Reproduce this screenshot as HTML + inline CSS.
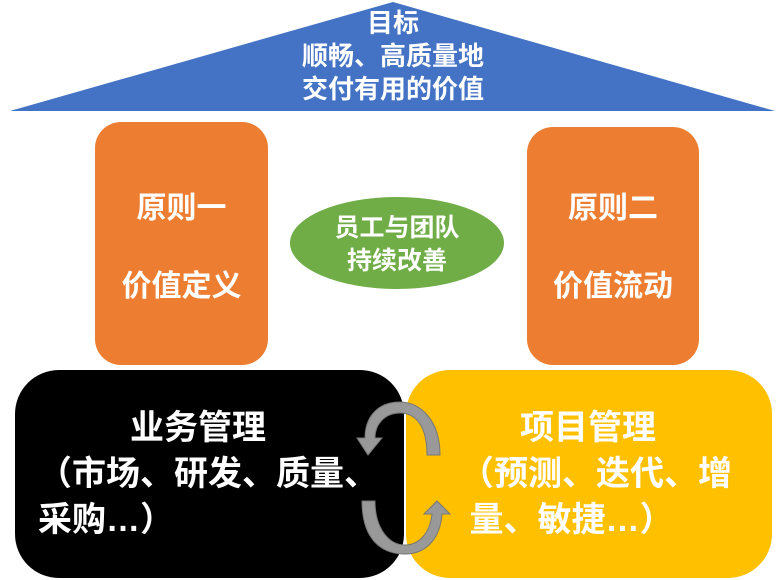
<!DOCTYPE html>
<html><head><meta charset="utf-8"><style>
body{margin:0;width:778px;height:580px;background:#fff;position:relative;overflow:hidden;font-family:"Liberation Sans","Noto Sans CJK SC",sans-serif;font-weight:bold}
.a{position:absolute;box-sizing:border-box}
.t{position:absolute;text-align:center;white-space:nowrap}
</style></head><body>
<svg class="a" style="left:0;top:0" width="778" height="580">
<polygon points="393,2 775,111 10,111" fill="#4472c4"/>
<rect x="95" y="122" width="173" height="243" rx="26" fill="#ed7d31"/>
<rect x="527" y="127" width="172" height="238" rx="26" fill="#ed7d31"/>
<ellipse cx="397" cy="243" rx="107" ry="46" fill="#70ad47"/>
<rect x="15" y="370" width="389" height="208" rx="44" fill="#000"/>
<rect x="406" y="370" width="366" height="208" rx="44" fill="#ffc000"/>
<path d="M400,402 C375,402 365,420 365,438 L357,438 L368,455 L382,438 L375,438 C375,424 385,413 400,413 C415,413 427,425 427,455 L440,455 C440,420 420,402 400,402Z" fill="#999" stroke="#777" stroke-width="1"/>
<path d="M362,501 L375,501 C375,530 390,545 405,545 C420,545 430,532 432,514 L424,514 L437,501 L450,514 L442,514 C440,540 425,554 405,554 C380,554 362,538 362,501Z" fill="#999" stroke="#777" stroke-width="1"/>
</svg>
<div class="t" style="left:243px;top:7px;width:300px;font-size:26px;line-height:33px;color:#fff">目标<br>顺畅、高质量地<br>交付有用的价值</div>
<div class="t" style="left:75px;top:170px;width:213px;font-size:30px;line-height:78px;color:#fff">原则一<br>价值定义</div>
<div class="t" style="left:507px;top:170px;width:212px;font-size:30px;line-height:78px;color:#fff">原则二<br>价值流动</div>
<div class="t" style="left:270px;top:212px;width:254px;font-size:25px;line-height:33px;color:#fff">员工与团队<br>持续改善</div>
<div class="t" style="left:38px;top:405px;width:360px;font-size:34px;line-height:46px;color:#fff;text-align:left"><span style="display:block;text-align:center;width:320px">业务管理</span>（市场、研发、质量、<br>采购…）</div>
<div class="t" style="left:460px;top:405px;width:320px;font-size:34px;line-height:46px;color:#fff;text-align:left"><span style="display:block;text-align:center;width:256px">项目管理</span>（预测、迭代、增<br>&nbsp;量、敏捷…）</div>
</body></html>
